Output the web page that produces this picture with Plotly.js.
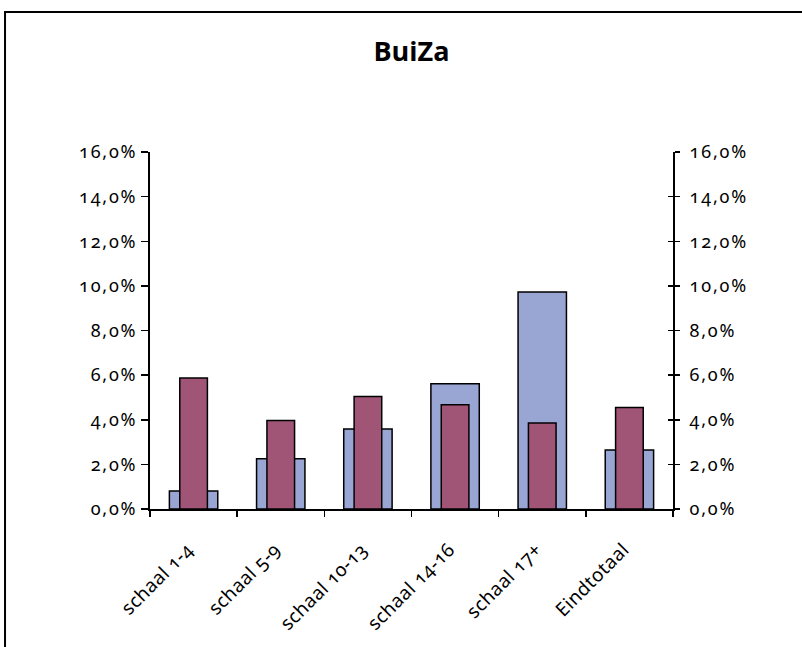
<!DOCTYPE html>
<html>
<head>
<meta charset="utf-8">
<script src="https://cdn.plot.ly/plotly-3.0.1.min.js"></script>
<style>
html,body{margin:0;padding:0;background:#fff;}
#chart{width:802px;height:647px;}
#chart .xtick text, #chart .ytick text, #chart .y2tick text{font-feature-settings:"onum" 1;}
#chart .ytick text, #chart .y2tick text{letter-spacing:1.8px;}
#chart .xtick text{letter-spacing:0.4px;}
</style>
</head>
<body>
<div id="chart"></div>
<script>
var categories = ["schaal 1-4","schaal 5-9","schaal 10-13","schaal 14-16","schaal 17+","Eindtotaal"];
var seriesBlue = [0.81, 2.25, 3.58, 5.61, 9.73, 2.64];
var seriesMaroon = [5.87, 3.97, 5.04, 4.67, 3.85, 4.55];
var yTickVals = [0,2,4,6,8,10,12,14,16];
var yTickText = ["0,0%","2,0%","4,0%","6,0%","8,0%","10,0%","12,0%","14,0%","16,0%"];

var tickFont = {family:"'Noto Sans', Lato, sans-serif", size:18, color:"#000"};
var xTickFont = {family:"'Noto Sans', Lato, sans-serif", size:19, color:"#000"};

var traces = [
  {type:"bar", x:categories, y:seriesBlue, width:0.555,
   marker:{color:"#99A6D4", line:{color:"#000", width:1.5}}, hoverinfo:"y"},
  {type:"bar", x:categories, y:seriesMaroon, width:0.317,
   marker:{color:"#A05577", line:{color:"#000", width:1.5}}, hoverinfo:"y"},
  {type:"scatter", x:categories, y:seriesBlue, yaxis:"y2", mode:"none", showlegend:false, hoverinfo:"skip"},
  {type:"scatter", x:categories, y:seriesBlue, yaxis:"y3", mode:"none", showlegend:false, hoverinfo:"skip"}
];

var yBase = {range:[0,16], tickvals:yTickVals, ticktext:yTickText, showgrid:false, zeroline:false,
  showline:true, linecolor:"#000", linewidth:2, tickcolor:"#000", tickwidth:1.5, tickfont:tickFont, fixedrange:true};

var layout = {
  width:802, height:647,
  margin:{l:150, r:129, t:152, b:138},
  paper_bgcolor:"#fff", plot_bgcolor:"#fff",
  showlegend:false,
  barmode:"overlay",
  title:{text:"BuiZa", x:0.5, xref:"paper", xanchor:"center", y:0.905, yref:"container", yanchor:"bottom",
    font:{family:"'Open Sans', Lato, sans-serif", size:27, color:"#000", weight:700}},
  xaxis:{type:"category", tickson:"boundaries", ticks:"outside", ticklen:6, tickwidth:1.5, tickcolor:"#000",
    showline:true, linecolor:"#000", linewidth:2, showgrid:false, tickangle:-45, tickfont:xTickFont,
    ticklabelstandoff:20, ticklabelshift:-6,
    range:[-0.5,5.5], fixedrange:true},
  yaxis:Object.assign({}, yBase, {side:"left", ticks:"outside", ticklen:7, ticklabelstandoff:0}),
  yaxis2:Object.assign({}, yBase, {side:"right", overlaying:"y", anchor:"x", ticks:"outside", ticklen:5, ticklabelstandoff:6}),
  yaxis3:Object.assign({}, yBase, {side:"right", overlaying:"y", anchor:"x", ticks:"inside", ticklen:5, showticklabels:false}),
  shapes:[
    {type:"rect", xref:"paper", yref:"paper", x0:-0.2772, x1:1.6, y0:-0.6, y1:1.392,
     line:{color:"#000", width:2}, fillcolor:"rgba(0,0,0,0)", layer:"below"}
  ]
};

Plotly.newPlot("chart", traces, layout, {displayModeBar:false, staticPlot:true});
</script>
</body>
</html>
